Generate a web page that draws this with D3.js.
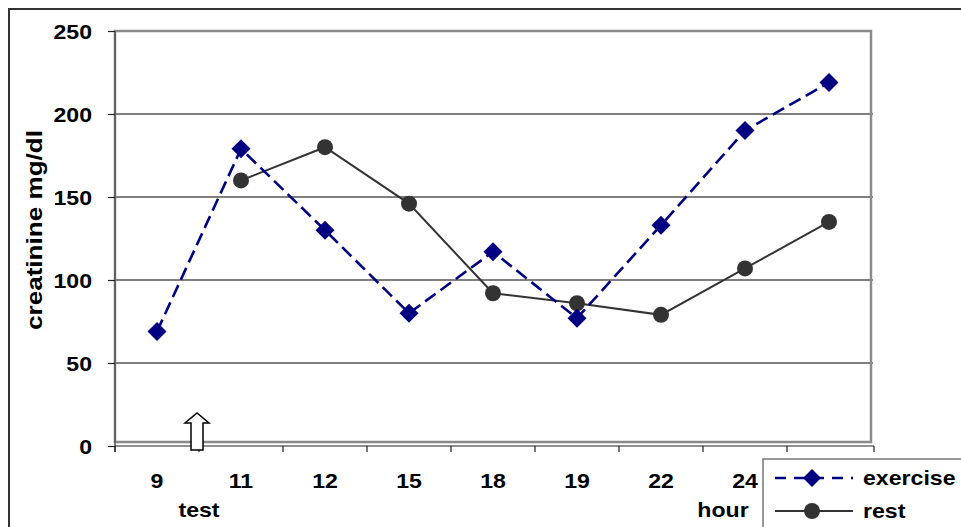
<!DOCTYPE html>
<html>
<head>
<meta charset="utf-8">
<script src="https://cdn.jsdelivr.net/npm/d3@7"></script>
<style>
  html, body { margin: 0; padding: 0; background: #fff; }
  svg { display: block; font-family: "Liberation Sans", Arial, sans-serif; font-weight: bold; }
</style>
</head>
<body>
<svg id="chart" width="961" height="527"></svg>
<script>
// Sampling times (hours); the last one sits under the legend box
const categories = ["9", "11", "12", "15", "18", "19", "22", "24", ""];
const exerciseValues = [69, 179, 130, 80, 117, 77, 133, 190, 219];
const restValues = [null, 160, 180, 146, 92, 86, 79, 107, 135];
const yTicks = [0, 50, 100, 150, 200, 250];
const seriesNames = ["exercise", "rest"];

const svg = d3.select("#chart");
const W = 961, H = 527;
const plot = { left: 115, right: 871, top: 31, bottom: 446 };

// Outer chart border
svg.append("path")
  .attr("d", `M9,${H + 2} L9,9 L${W + 2},9`)
  .attr("fill", "none").attr("stroke", "#333").attr("stroke-width", 2);

const x = d3.scaleBand().domain(d3.range(categories.length))
  .range([plot.left, plot.right]).padding(0);
const y = d3.scaleLinear().domain([0, 250]).range([plot.bottom, plot.top]);
const cx = i => x(i) + x.bandwidth() / 2;

// Horizontal gridlines
svg.append("g").selectAll("line").data(yTicks.filter(v => v > 0 && v < 250)).join("line")
  .attr("x1", plot.left).attr("x2", plot.right + 2)
  .attr("y1", d => y(d)).attr("y2", d => y(d))
  .attr("stroke", "#555").attr("stroke-width", 1.3);

// Plot area frame
svg.append("rect")
  .attr("x", plot.left).attr("y", plot.top)
  .attr("width", plot.right - plot.left).attr("height", plot.bottom - 4 - plot.top)
  .attr("fill", "none").attr("stroke", "#8a8a8a").attr("stroke-width", 2.5);

// Y axis
const yAxis = d3.axisLeft(y).tickValues(yTicks).tickSize(7).tickPadding(16);
const gy = svg.append("g").attr("transform", `translate(${plot.left},0)`).call(yAxis);
gy.select(".domain").attr("stroke", "#555").attr("stroke-width", 1.5)
  .attr("d", `M0,${plot.top}V${plot.bottom + 6}`);
gy.selectAll(".tick line").attr("stroke", "#222").attr("stroke-width", 1.2);
gy.selectAll(".tick text").attr("class", "wide").attr("font-size", 21).attr("fill", "#000")
  .attr("font-weight", "bold").attr("dy", "0.36em").attr("font-family", "Liberation Sans, Arial, sans-serif");

// X axis: tick marks on band boundaries, labels centred in bands
const gx = svg.append("g");
gx.append("line").attr("x1", plot.left).attr("x2", plot.right + 3)
  .attr("y1", plot.bottom).attr("y2", plot.bottom)
  .attr("stroke", "#222").attr("stroke-width", 1.2);
const bounds = d3.range(categories.length + 1).map(i => i < categories.length ? x(i) : plot.right + 3);
gx.selectAll("line.tk").data(bounds).join("line").attr("class", "tk")
  .attr("x1", d => d).attr("x2", d => d)
  .attr("y1", plot.bottom).attr("y2", plot.bottom + 6)
  .attr("stroke", "#222").attr("stroke-width", 1.2);
gx.selectAll("text").data(categories).join("text").attr("class", "wide")
  .attr("x", (d, i) => cx(i)).attr("y", 488)
  .attr("text-anchor", "middle").attr("font-size", 21).text(d => d);

// Axis titles
svg.append("text")
  .attr("transform", `translate(42,230) rotate(-90)`)
  .attr("text-anchor", "middle").attr("font-size", 21.5)
  .attr("textLength", 200).attr("lengthAdjust", "spacingAndGlyphs")
  .text("creatinine mg/dl");
svg.append("text").attr("class", "wide").attr("x", x(1)).attr("y", 517)
  .attr("text-anchor", "middle").attr("font-size", 21).text("test");
svg.append("text").attr("class", "wide").attr("x", 723).attr("y", 517)
  .attr("text-anchor", "middle").attr("font-size", 21).text("hour");

// Hollow arrow marking the test time
const ax = x(1) - 2, aBase = plot.bottom + 4, aTip = plot.bottom - 33;
svg.append("path")
  .attr("d", `M${ax - 6},${aBase} L${ax - 6},${aTip + 10} L${ax - 12},${aTip + 10} L${ax},${aTip} L${ax + 12},${aTip + 10} L${ax + 6},${aTip + 10} L${ax + 6},${aBase} Z`)
  .attr("fill", "#fff").attr("stroke", "#000").attr("stroke-width", 1.5);

const navy = "#000080", dark = "#333333";
const line = d3.line().defined(d => d.v != null).x(d => cx(d.i)).y(d => y(d.v));
const exData = exerciseValues.map((v, i) => ({ i, v }));
const reData = restValues.map((v, i) => ({ i, v }));

// Rest series
svg.append("path").datum(reData).attr("d", line)
  .attr("fill", "none").attr("stroke", dark).attr("stroke-width", 2);
svg.append("g").selectAll("circle").data(reData.filter(d => d.v != null)).join("circle")
  .attr("cx", d => cx(d.i)).attr("cy", d => y(d.v)).attr("r", 8).attr("fill", dark);

// Exercise series
const diamond = s => `M0,${-s} L${s},0 L0,${s} L${-s},0 Z`;
svg.append("path").datum(exData).attr("d", line)
  .attr("fill", "none").attr("stroke", navy).attr("stroke-width", 2.6)
  .attr("stroke-dasharray", "13,6");
svg.append("g").selectAll("path").data(exData).join("path")
  .attr("transform", d => `translate(${cx(d.i)},${y(d.v)})`)
  .attr("d", diamond(9.5)).attr("fill", navy);

// Legend
const lg = svg.append("g");
lg.append("rect").attr("x", 763).attr("y", 459).attr("width", 210).attr("height", 80)
  .attr("fill", "#fff").attr("stroke", "#777").attr("stroke-width", 1.5);
const legendRows = [
  { name: seriesNames[0], y: 478, color: navy, dash: "11,8", w: 2.6, mark: "diamond" },
  { name: seriesNames[1], y: 511, color: dark, dash: null, w: 2, mark: "circle" }
];
legendRows.forEach(r => {
  lg.append("line").attr("x1", 775).attr("x2", 853).attr("y1", r.y).attr("y2", r.y)
    .attr("stroke", r.color).attr("stroke-width", r.w)
    .attr("stroke-dasharray", r.dash);
  if (r.mark === "diamond") {
    lg.append("path").attr("transform", `translate(812,${r.y})`).attr("d", diamond(9)).attr("fill", r.color);
  } else {
    lg.append("circle").attr("cx", 812).attr("cy", r.y).attr("r", 8).attr("fill", r.color);
  }
  lg.append("text").attr("class", "wide").attr("x", 863).attr("y", r.y + 7)
    .attr("font-size", 21).text(r.name);
});

// Bold labels are set slightly wider than the font's natural advance;
// the anchor is resolved by hand so the widened text keeps its alignment.
svg.selectAll("text.wide").each(function () {
  const el = d3.select(this);
  const len = this.getComputedTextLength();
  if (len <= 0) return;
  const L = len * 1.1;
  const anchor = getComputedStyle(this).textAnchor || el.attr("text-anchor") || "start";
  const x0 = +(el.attr("x") || 0);
  const shift = anchor === "end" ? L : anchor === "middle" ? L / 2 : 0;
  el.attr("text-anchor", "start").attr("x", x0 - shift)
    .attr("textLength", L).attr("lengthAdjust", "spacingAndGlyphs");
});
</script>
</body>
</html>
